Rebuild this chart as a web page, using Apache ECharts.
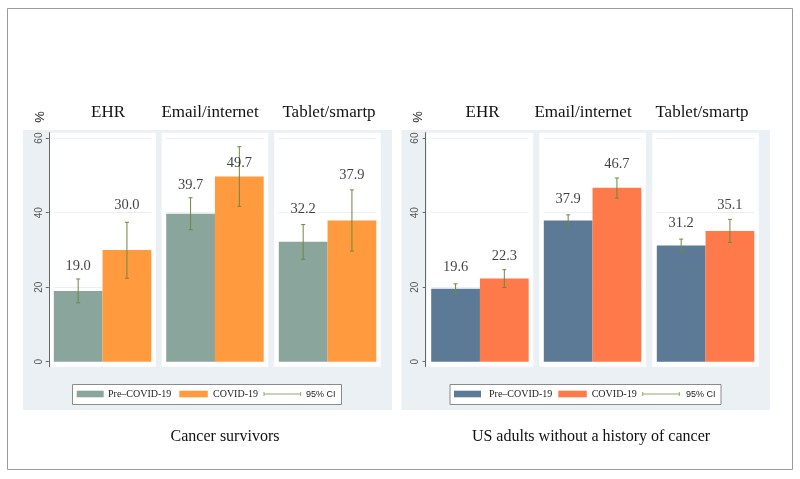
<!DOCTYPE html>
<html>
<head>
<meta charset="utf-8">
<script src="https://cdn.jsdelivr.net/npm/echarts@6/dist/echarts.min.js"></script>
<style>
html,body{margin:0;padding:0;background:#fff;}
#chart{width:800px;height:479px;}
</style>
</head>
<body>
<div id="chart"></div>
<script>
// ---- data ----
const categories = ['EHR', 'Email/internet', 'Tablet/smartp'];
const groupTitles = ['Cancer survivors', 'US adults without a history of cancer'];
const periods = ['Pre\u2013COVID-19', 'COVID-19'];
const yTicks = [0, 20, 40, 60];
const gridValues = [20, 40, 60];

const survPre = [19.0, 39.7, 32.2];
const survCovid = [30.0, 49.7, 37.9];
const survPreLow = [15.8, 35.4, 27.5];
const survPreHigh = [22.2, 44.0, 36.8];
const survCovidLow = [22.4, 41.7, 29.7];
const survCovidHigh = [37.4, 57.7, 46.1];
// vertical data position at which each value label is printed (as in the original)
const survPreLabelAt = [25.5, 47.3, 41.0];
const survCovidLabelAt = [42.1, 53.4, 50.0];

const adultPre = [19.6, 37.9, 31.2];
const adultCovid = [22.3, 46.7, 35.1];
const adultPreLow = [18.3, 36.3, 29.5];
const adultPreHigh = [20.9, 39.4, 32.9];
const adultCovidLow = [19.9, 43.9, 32.0];
const adultCovidHigh = [24.7, 49.3, 38.2];
const adultPreLabelAt = [25.4, 43.6, 37.2];
const adultCovidLabelAt = [28.4, 52.9, 42.0];

// ---- layout / style ----
const groups = [
  {pre: survPre, covid: survCovid, preLow: survPreLow, preHigh: survPreHigh,
   covidLow: survCovidLow, covidHigh: survCovidHigh,
   preLab: survPreLabelAt, covidLab: survCovidLabelAt,
   colors: ['#8aa59b', '#ff9a3e'], panelX: [49.3, 161.7, 274.3], titleX: [108, 210, 329],
   bgX: 23, bgW: 369, axisOffset: 5, legendX: 72.5, legendW: 269,
   leg: {sw1: 76.7, t1: 108, sw2: 179.3, t2: 213, ci1: 264, ci2: 300.7, t3: 306},
   bottomX: 225},
  {pre: adultPre, covid: adultCovid, preLow: adultPreLow, preHigh: adultPreHigh,
   covidLow: adultCovidLow, covidHigh: adultCovidHigh,
   preLab: adultPreLabelAt, covidLab: adultCovidLabelAt,
   colors: ['#5c7a96', '#ff7a4a'], panelX: [426.7, 539.3, 652.3], titleX: [482.5, 583, 702],
   bgX: 401.5, bgW: 368.5, axisOffset: 5.5, legendX: 450, legendW: 271,
   leg: {sw1: 454, t1: 489, sw2: 558.3, t2: 591.7, ci1: 642.7, ci2: 679.3, t3: 686},
   bottomX: 591}
];
const panelW = 106.5, inset = 4.5;
const plotTop = 132.7, plotH = 234;
const yMin = -1.34, yMax = 61.45;
const serif = 'Liberation Serif, Times New Roman, serif';
const sans = 'Liberation Sans, Arial, sans-serif';
const ciColor = '#6b8a3c';

const grid = [], xAxis = [], yAxis = [], series = [], graphic = [];

// outer frame
graphic.push({type: 'rect', shape: {x: 7.5, y: 8.5, width: 785, height: 461},
  style: {fill: '#fff', stroke: '#9a9a9a', lineWidth: 1}, z: -10});

groups.forEach((g, gi) => {
  graphic.push({type: 'rect', shape: {x: g.bgX, y: 130, width: g.bgW, height: 280},
    style: {fill: '#eaf0f3'}, z: -9});
  // "%"
  graphic.push({type: 'text', x: g.bgX + 17, y: 117, rotation: Math.PI / 2,
    style: {text: '%', font: '13px ' + sans, fill: '#222', align: 'center', verticalAlign: 'middle'}, z: 5});
  // bottom title
  graphic.push({type: 'text', x: g.bottomX, y: 437,
    style: {text: groupTitles[gi], font: '16px ' + serif, fill: '#111', align: 'center', verticalAlign: 'middle'}, z: 5});
  // legend
  const ly = 394;
  graphic.push({type: 'rect', shape: {x: g.legendX, y: 384.5, width: g.legendW, height: 20},
    style: {fill: '#fff', stroke: '#8a8a8a', lineWidth: 1}, z: 4});
  graphic.push({type: 'rect', shape: {x: g.leg.sw1, y: ly - 3.3, width: 27, height: 6.6}, style: {fill: g.colors[0]}, z: 5});
  graphic.push({type: 'text', x: g.leg.t1, y: ly + 0.5, style: {text: periods[0], font: '10px ' + serif, fill: '#222', verticalAlign: 'middle'}, z: 5});
  graphic.push({type: 'rect', shape: {x: g.leg.sw2, y: ly - 3.3, width: 28.5, height: 6.6}, style: {fill: g.colors[1]}, z: 5});
  graphic.push({type: 'text', x: g.leg.t2, y: ly + 0.5, style: {text: periods[1], font: '10px ' + serif, fill: '#222', verticalAlign: 'middle'}, z: 5});
  graphic.push({type: 'polyline', shape: {points: [[g.leg.ci1, ly], [g.leg.ci2, ly]]}, style: {stroke: '#8cab6a', lineWidth: 1}, z: 5});
  graphic.push({type: 'polyline', shape: {points: [[g.leg.ci1, ly - 2], [g.leg.ci1, ly + 2]]}, style: {stroke: '#8cab6a', lineWidth: 1}, z: 5});
  graphic.push({type: 'polyline', shape: {points: [[g.leg.ci2, ly - 2], [g.leg.ci2, ly + 2]]}, style: {stroke: '#8cab6a', lineWidth: 1}, z: 5});
  graphic.push({type: 'text', x: g.leg.t3, y: ly + 0.5, style: {text: '95% CI', font: '9px ' + sans, fill: '#222', verticalAlign: 'middle'}, z: 5});

  categories.forEach((cat, ci) => {
    const idx = gi * 3 + ci;
    const px = g.panelX[ci];
    // white panel
    graphic.push({type: 'rect', shape: {x: px, y: plotTop, width: panelW, height: plotH},
      style: {fill: '#ffffff'}, z: -8});
    // panel title
    graphic.push({type: 'text', x: g.titleX[ci], y: 113,
      style: {text: cat, font: '17px ' + serif, fill: '#111', align: 'center', verticalAlign: 'middle'}, z: 5});

    grid.push({left: px + inset, width: panelW - 2 * inset, top: plotTop, height: plotH, containLabel: false});
    xAxis.push({type: 'category', gridIndex: idx, data: periods, show: false, boundaryGap: true});
    yAxis.push({type: 'value', gridIndex: idx, min: yMin, max: yMax,
      show: ci === 0, offset: g.axisOffset,
      axisLine: {show: true, lineStyle: {color: '#666', width: 1}},
      axisTick: {show: true, length: 3, lineStyle: {color: '#666'}, customValues: yTicks},
      axisLabel: {show: true, rotate: 90, customValues: yTicks, margin: 5,
        color: '#555', fontFamily: sans, fontSize: 10},
      splitLine: {show: false}});

    // faint horizontal grid lines (drawn beneath bars)
    series.push({type: 'line', xAxisIndex: idx, yAxisIndex: idx, data: [], silent: true, z: 0,
      markLine: {silent: true, symbol: 'none', z: 0, label: {show: false},
        lineStyle: {color: '#eaf0f2', width: 1, type: 'solid'},
        data: gridValues.map(v => ({yAxis: v}))}});

    series.push({type: 'bar', xAxisIndex: idx, yAxisIndex: idx,
      barCategoryGap: 0, barWidth: '100%',
      data: [
        {value: g.pre[ci], itemStyle: {color: g.colors[0]}},
        {value: g.covid[ci], itemStyle: {color: g.colors[1]}}
      ],
      z: 2});

    series.push({type: 'custom', xAxisIndex: idx, yAxisIndex: idx, z: 5,
      data: [[0, g.preLow[ci], g.preHigh[ci]], [1, g.covidLow[ci], g.covidHigh[ci]]],
      renderItem: function (params, api) {
        const lo = api.coord([api.value(0), api.value(1)]);
        const hi = api.coord([api.value(0), api.value(2)]);
        const s = {stroke: ciColor, lineWidth: 1};
        const cap = 2;
        return {type: 'group', children: [
          {type: 'line', shape: {x1: lo[0], y1: lo[1], x2: hi[0], y2: hi[1]}, style: s},
          {type: 'line', shape: {x1: lo[0] - cap, y1: lo[1], x2: lo[0] + cap, y2: lo[1]}, style: s},
          {type: 'line', shape: {x1: hi[0] - cap, y1: hi[1], x2: hi[0] + cap, y2: hi[1]}, style: s}
        ]};
      }});

    series.push({type: 'scatter', xAxisIndex: idx, yAxisIndex: idx, symbolSize: 0, z: 6,
      data: [[0, g.preLab[ci], g.pre[ci]], [1, g.covidLab[ci], g.covid[ci]]],
      label: {show: true, position: 'inside', color: '#111', fontFamily: serif, fontSize: 14.5,
        formatter: p => p.value[2].toFixed(1)}});
  });
});

const chart = echarts.init(document.getElementById('chart'), null, {renderer: 'canvas'});
chart.setOption({
  animation: false,
  backgroundColor: '#fff',
  grid, xAxis, yAxis, series, graphic
});
</script>
</body>
</html>
